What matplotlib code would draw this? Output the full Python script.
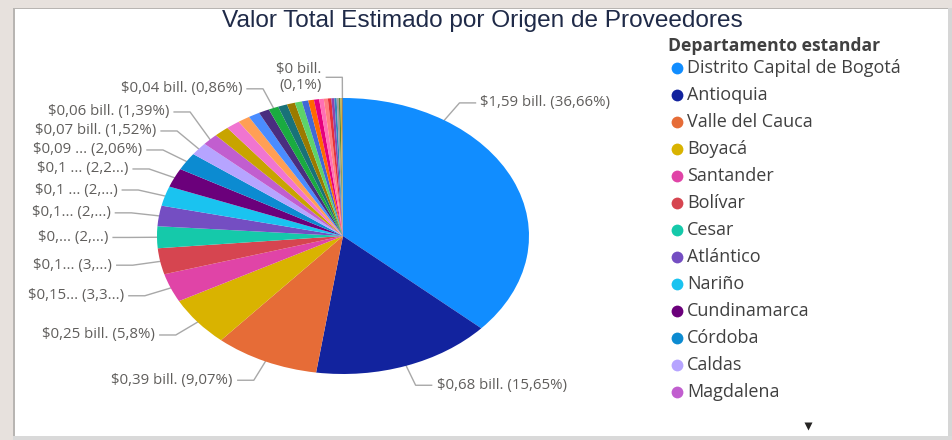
"""Pie chart: Valor Total Estimado por Origen de Proveedores."""

import matplotlib.pyplot as plt
import numpy as np

# Participación (%) de cada departamento, en el orden de la torta (mayor a menor).
participacion = [
    36.66, 15.65, 9.07, 5.80, 3.35, 3.05, 2.55, 2.40, 2.30, 2.22, 2.06, 1.52, 1.39,
    1.30, 1.20, 1.05, 0.98, 0.92, 0.86, 0.80, 0.70, 0.62, 0.55, 0.50, 0.45, 0.40,
    0.35, 0.30, 0.25, 0.20, 0.18, 0.15, 0.12, 0.10,
]
# Solo los primeros 13 departamentos son visibles en la leyenda.
departamentos = [
    "Distrito Capital de Bogotá", "Antioquia", "Valle del Cauca", "Boyacá",
    "Santander", "Bolívar", "Cesar", "Atlántico", "Nariño", "Cundinamarca",
    "Córdoba", "Caldas", "Magdalena",
]
colores = [
    "#118DFF", "#12239E", "#E66C37", "#D9B300", "#E044A7", "#D64550", "#15C9AA",
    "#744EC2", "#1AC3F0", "#6B007B", "#0C8BD1", "#B6A4FF", "#C15ECF", "#C8A400",
    "#F075D0", "#FF9F55", "#4A8CFF", "#4A2D7F", "#1AAB40", "#197278", "#9B7A00",
    "#5DD36A", "#4169D6", "#FF6A00", "#E6007E", "#FF6FB5", "#FF7F7F", "#E8303A",
    "#8E44AD", "#2E86C1", "#A0A0A0", "#5C8A3B", "#D4AF37", "#7F7F7F",
]
# Etiquetas de datos visibles (índice de porción -> texto mostrado).
etiquetas = {
    0: "$1,59 bill. (36,66%)",
    1: "$0,68 bill. (15,65%)",
    2: "$0,39 bill. (9,07%)",
    3: "$0,25 bill. (5,8%)",
    4: "$0,15... (3,3...)",
    5: "$0,1... (3,...)",
    6: "$0,... (2,...)",
    7: "$0,1... (2,...)",
    8: "$0,1 ... (2,...)",
    9: "$0,1 ... (2,2...)",
    10: "$0,09 ... (2,06%)",
    11: "$0,07 bill. (1,52%)",
    12: "$0,06 bill. (1,39%)",
    18: "$0,04 bill. (0,86%)",
    33: "$0 bill.\n(0,1%)",
}

W, H = 952, 440
CX, CY, RX, RY = 343, 236, 186, 138
R_ELBOW = 1.15
GAP = 19
ANCHOR_OVERRIDE = {0: 57.0}  # label anchor angle for the big slice
LABEL_COLOR = "#605E5C"
LINE_COLOR = "#A8A8A8"
FONT = "Open Sans"

fig = plt.figure(figsize=(W / 100, H / 100), dpi=100)
fig.patch.set_facecolor("white")

overlay = fig.add_axes([0, 0, 1, 1])
overlay.set_xlim(0, W)
overlay.set_ylim(H, 0)
overlay.axis("off")

# Report frame
overlay.add_patch(plt.Rectangle((0, 0), W, 8, color="#E7E1DD", lw=0))
overlay.add_patch(plt.Rectangle((0, 0), 13, H, color="#E7E1DD", lw=0))
overlay.add_patch(plt.Rectangle((13, 8), 1.5, H, color="#B8B5B2", lw=0))
overlay.add_patch(plt.Rectangle((13, 8), W, 1.5, color="#B8B5B2", lw=0))
overlay.add_patch(plt.Rectangle((948, 8), 4, H, color="#D6D6D6", lw=0))
overlay.add_patch(plt.Rectangle((13, 436), W, 4, color="#D9D9D9", lw=0))

overlay.text(482, 21, "Valor Total Estimado por Origen de Proveedores",
             ha="center", va="center", fontsize=17.6, color="#1F2A48",
             family="Liberation Sans")

pie_ax = fig.add_axes([(CX - RX) / W, (H - CY - RY) / H, 2 * RX / W, 2 * RY / H])
wedges, _ = pie_ax.pie(participacion, colors=colores, startangle=90,
                       counterclock=False, wedgeprops={"linewidth": 0})
pie_ax.set_aspect("auto")
pie_ax.set_xlim(-1, 1)
pie_ax.set_ylim(-1, 1)
pie_ax.patch.set_visible(False)

# Data labels with elbow leader lines
left, right = [], []
for idx, text in etiquetas.items():
    wedge = wedges[idx]
    ang = np.deg2rad(ANCHOR_OVERRIDE.get(idx, (wedge.theta1 + wedge.theta2) / 2))
    ux, uy = np.cos(ang), np.sin(ang)
    rim = (CX + RX * ux, CY - RY * uy)
    elbow = [CX + RX * R_ELBOW * ux, CY - RY * R_ELBOW * uy]
    item = {"text": text, "rim": rim, "elbow": elbow, "top": abs(ux) < 0.1}
    (right if ux > 0.05 else left).append(item)

for group in (left, right):
    stacked = sorted([g for g in group if not g["top"]], key=lambda g: -g["elbow"][1])
    for below, above in zip(stacked, stacked[1:]):
        above["elbow"][1] = min(above["elbow"][1], below["elbow"][1] - GAP)

for group, sign in ((left, -1), (right, 1)):
    for item in group:
        ex, ey = item["elbow"]
        end_x = ex + sign * 16
        overlay.plot([item["rim"][0], ex, end_x], [item["rim"][1], ey, ey],
                     color=LINE_COLOR, lw=1)
        overlay.text(end_x + sign * 5, ey, item["text"], ha="left" if sign > 0 else "right",
                     va="center", fontsize=10.8, color=LABEL_COLOR, family=FONT,
                     multialignment="right", linespacing=1.05)

# Legend
overlay.text(668, 46, "Departamento estandar", ha="left", va="center", fontsize=12.6,
             fontweight="bold", color="#404040", family=FONT)
for k, (name, color) in enumerate(zip(departamentos, colores)):
    y = 68 + 27 * k
    overlay.plot(677, y, "o", ms=8.5, color=color, mec="none")
    overlay.text(687, y, name, ha="left", va="center", fontsize=13,
                 color="#404040", family=FONT)
overlay.plot(808, 426, "v", ms=6, color="#252423", mec="none")

fig.savefig("out.png", dpi=100)
